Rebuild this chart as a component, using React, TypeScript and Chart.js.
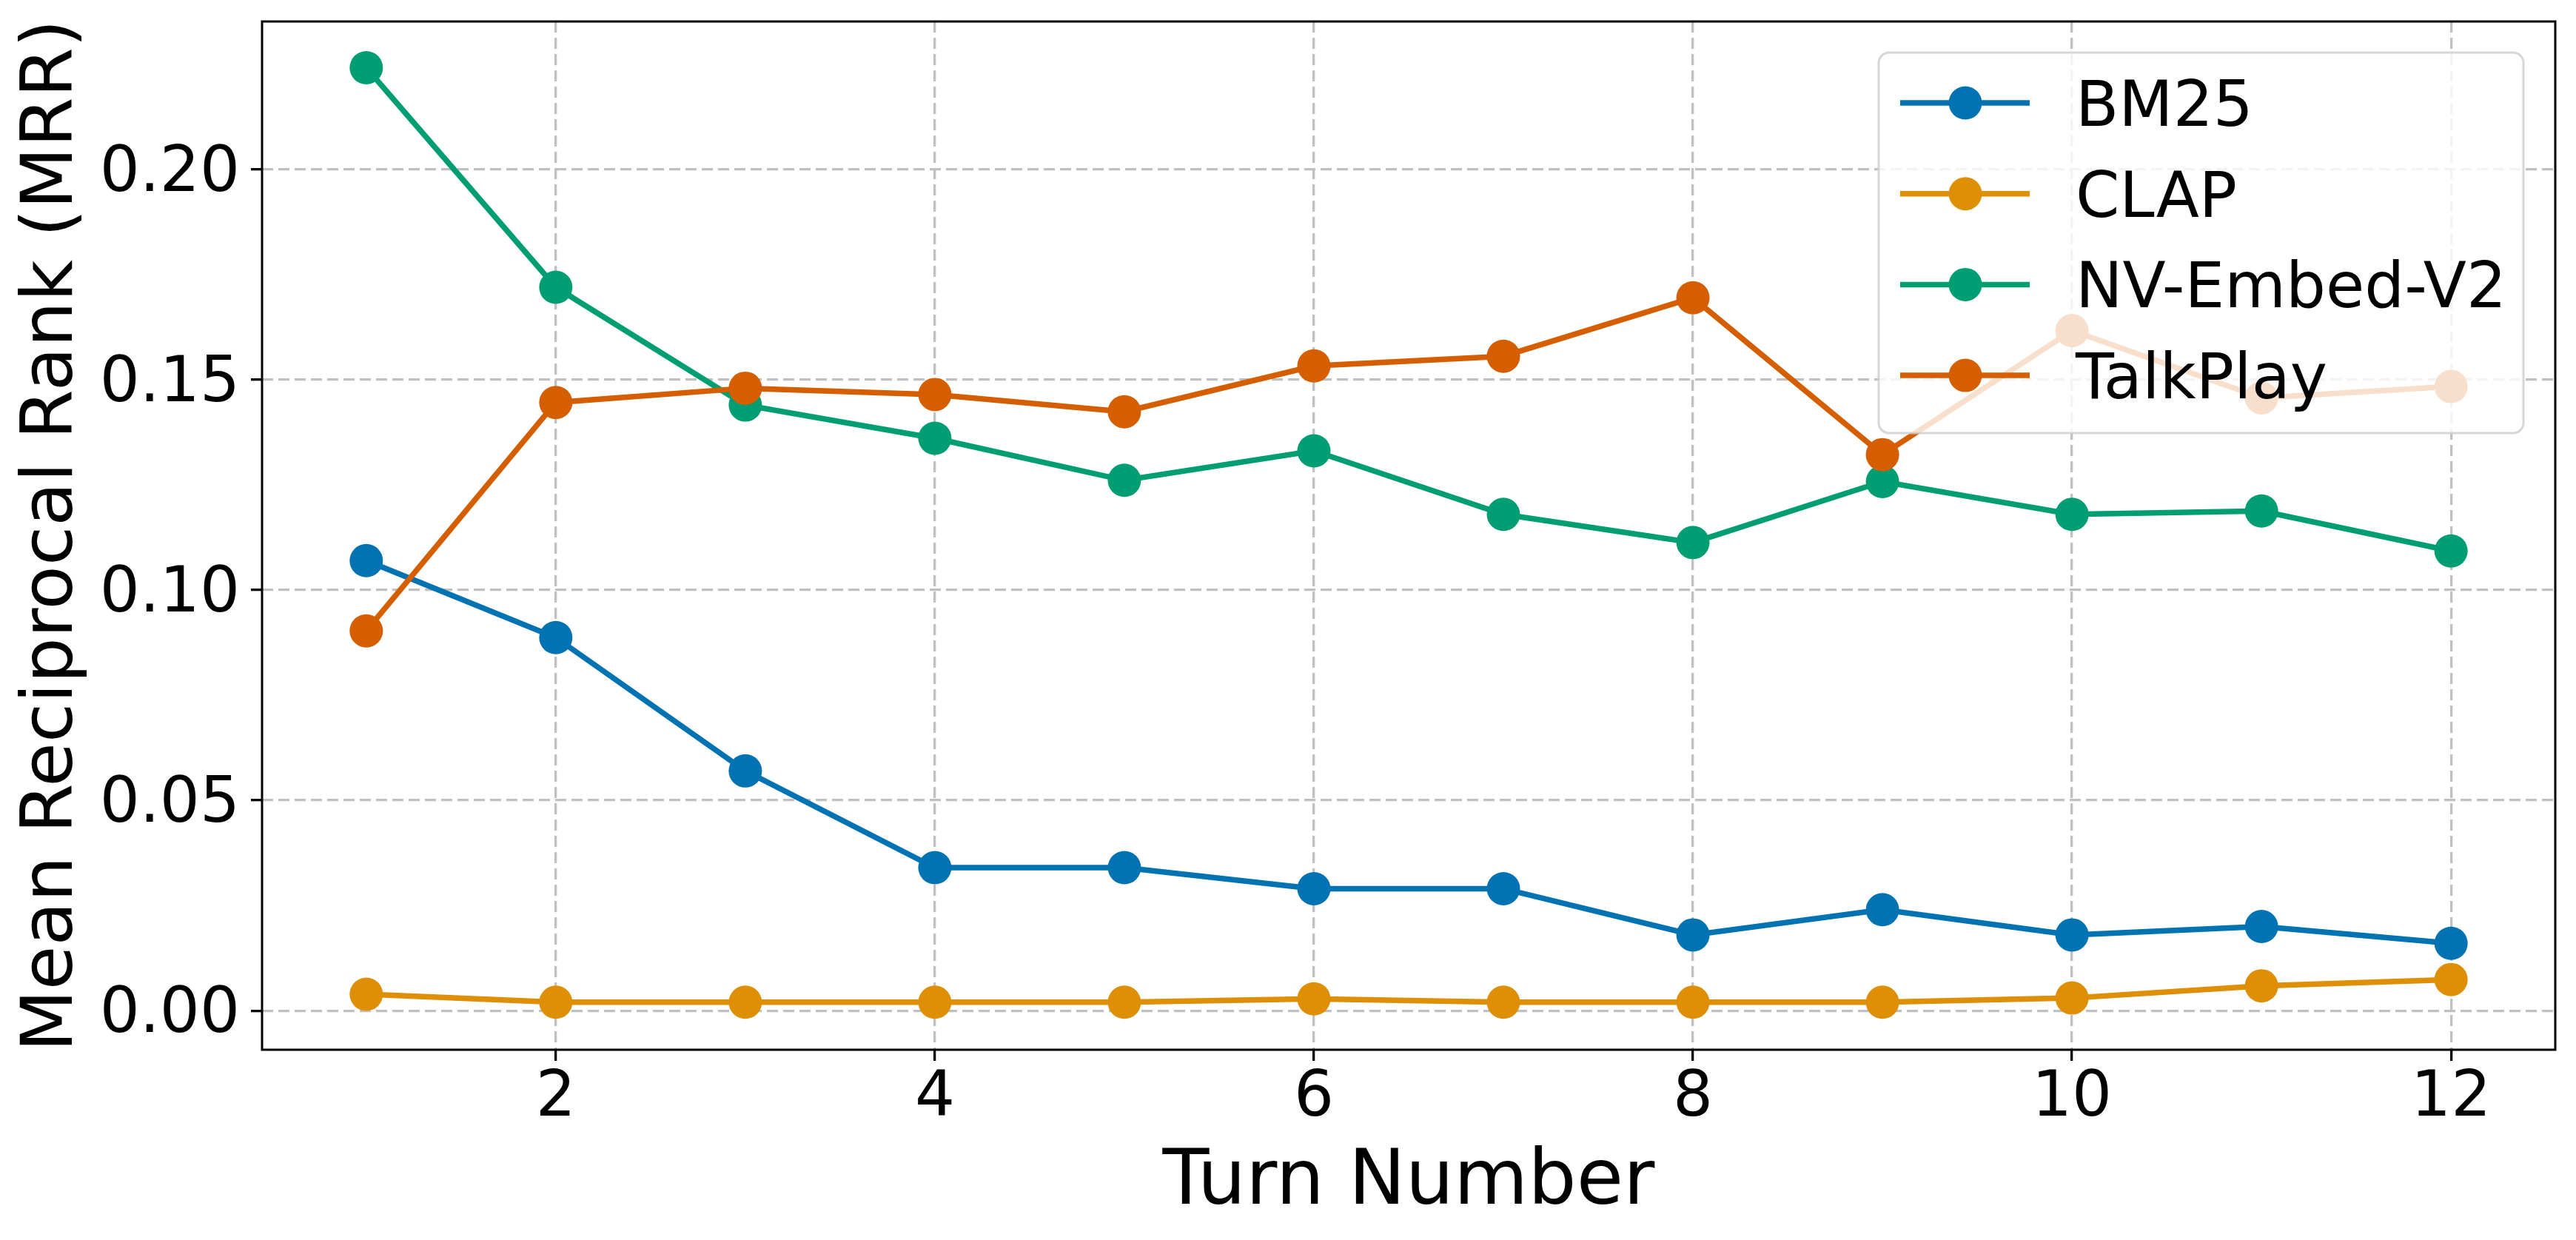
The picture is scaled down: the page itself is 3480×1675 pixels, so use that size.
import React, { useEffect, useRef } from 'react';
import { Chart, registerables } from 'chart.js';

Chart.register(...registerables);

const turns = [1, 2, 3, 4, 5, 6, 7, 8, 9, 10, 11, 12];
const bm25 = [0.107, 0.0887, 0.057, 0.034, 0.034, 0.029, 0.029, 0.018, 0.024, 0.018, 0.02, 0.016];
const clap = [0.0039, 0.002, 0.002, 0.002, 0.002, 0.0028, 0.002, 0.002, 0.002, 0.003, 0.0059, 0.0074];
const nvEmbed = [0.2242, 0.172, 0.144, 0.1361, 0.1261, 0.1331, 0.118, 0.1113, 0.1258, 0.118, 0.1188, 0.1093];
const talkPlay = [0.0903, 0.1446, 0.148, 0.1465, 0.1424, 0.1533, 0.1556, 0.1695, 0.1322, 0.1617, 0.1457, 0.1484];

const seriesNames = ['BM25', 'CLAP', 'NV-Embed-V2', 'TalkPlay'];
const seriesColors = ['#0173b2', '#de8f05', '#029e73', '#d55e00'];
const seriesValues = [bm25, clap, nvEmbed, talkPlay];

const yTicks = [0, 0.05, 0.1, 0.15, 0.2];
const xTicks = [2, 4, 6, 8, 10, 12];

const FONT = "'DejaVu Sans', sans-serif";

const framePlugin = {
  id: 'mplFrame',
  afterDatasetsDraw(chart: any) {
    const { ctx, chartArea: a } = chart;
    ctx.save();
    ctx.strokeStyle = '#000';
    ctx.lineWidth = 3;
    ctx.setLineDash([]);
    ctx.strokeRect(a.left, a.top, a.right - a.left, a.bottom - a.top);
    ctx.restore();
  },
};

const legendPlugin = {
  id: 'mplLegend',
  afterDraw(chart: any) {
    const { ctx, chartArea: a } = chart;
    const boxW = 871;
    const boxH = 514;
    const right = a.right - 43;
    const top = a.top + 42;
    const left = right - boxW;
    const r = 14;
    ctx.save();
    ctx.beginPath();
    ctx.moveTo(left + r, top);
    ctx.lineTo(left + boxW - r, top);
    ctx.arcTo(left + boxW, top, left + boxW, top + r, r);
    ctx.lineTo(left + boxW, top + boxH - r);
    ctx.arcTo(left + boxW, top + boxH, left + boxW - r, top + boxH, r);
    ctx.lineTo(left + r, top + boxH);
    ctx.arcTo(left, top + boxH, left, top + boxH - r, r);
    ctx.lineTo(left, top + r);
    ctx.arcTo(left, top, left + r, top, r);
    ctx.closePath();
    ctx.fillStyle = 'rgba(255,255,255,0.8)';
    ctx.fill();
    ctx.strokeStyle = 'rgba(204,204,204,0.8)';
    ctx.lineWidth = 3;
    ctx.stroke();

    chart.data.datasets.forEach((ds: any, i: number) => {
      const y = top + 68 + i * 122.7;
      ctx.strokeStyle = ds.borderColor;
      ctx.lineWidth = 7.5;
      ctx.beginPath();
      ctx.moveTo(left + 29, y);
      ctx.lineTo(left + 204, y);
      ctx.stroke();
      ctx.fillStyle = ds.borderColor;
      ctx.beginPath();
      ctx.arc(left + 117, y, 22.5, 0, Math.PI * 2);
      ctx.fill();
      ctx.fillStyle = '#000';
      ctx.font = `85px ${FONT}`;
      ctx.textAlign = 'left';
      ctx.textBaseline = 'alphabetic';
      ctx.fillText(ds.label, left + 266, y + 31);
    });
    ctx.restore();
  },
};

export default function App() {
  const canvasRef = useRef<HTMLCanvasElement | null>(null);

  useEffect(() => {
    document.body.style.margin = '0';
    const canvas = canvasRef.current;
    if (!canvas) return;

    const datasets = seriesNames.map((name, i) => ({
      label: name,
      data: turns.map((t, j) => ({ x: t, y: seriesValues[i][j] })),
      borderColor: seriesColors[i],
      backgroundColor: seriesColors[i],
      pointBackgroundColor: seriesColors[i],
      pointBorderColor: seriesColors[i],
      pointBorderWidth: 0,
      pointRadius: 22.5,
      pointHoverRadius: 22.5,
      borderWidth: 7.5,
      tension: 0,
      fill: false,
      order: seriesNames.length - 1 - i,
    }));

    const chart = new Chart(canvas, {
      type: 'line',
      data: { datasets },
      plugins: [framePlugin, legendPlugin],
      options: {
        responsive: false,
        animation: false,
        devicePixelRatio: 1,
        events: [],
        layout: { padding: { left: 0, right: 28, top: 29, bottom: 0 } },
        plugins: {
          legend: { display: false },
          tooltip: { enabled: false },
        },
        scales: {
          x: {
            type: 'linear',
            min: 0.45,
            max: 12.55,
            afterBuildTicks: (s: any) => {
              s.ticks = xTicks.map((v) => ({ value: v }));
            },
            afterFit: (s: any) => {
              s.height = 257;
              s.paddingLeft = 0;
              s.paddingRight = 0;
            },
            grid: {
              color: '#c0c0c0',
              lineWidth: 3.3,
              tickLength: 15,
              tickColor: '#000',
              tickWidth: 3.3,
            },
            border: { display: false, dash: [15, 7] },
            ticks: {
              font: { family: FONT, size: 85 },
              color: '#000',
              padding: 1,
              maxRotation: 0,
              autoSkip: false,
              callback: (v: any) => String(v),
            },
            title: {
              display: true,
              text: 'Turn Number',
              font: { family: FONT, size: 103 },
              color: '#000',
              padding: { top: 0, bottom: 14 },
            },
          },
          y: {
            type: 'linear',
            min: -0.0093,
            max: 0.2352,
            afterBuildTicks: (s: any) => {
              s.ticks = yTicks.map((v) => ({ value: v }));
            },
            afterFit: (s: any) => {
              s.width = 354;
              s.paddingTop = 0;
              s.paddingBottom = 0;
            },
            grid: {
              color: '#c0c0c0',
              lineWidth: 3.3,
              tickLength: 15,
              tickColor: '#000',
              tickWidth: 3.3,
            },
            border: { display: false, dash: [15, 7] },
            ticks: {
              font: { family: FONT, size: 85 },
              color: '#000',
              padding: 15,
              labelOffset: 7,
              autoSkip: false,
              callback: (v: any) => Number(v).toFixed(2),
            },
            title: {
              display: true,
              text: 'Mean Reciprocal Rank (MRR)',
              font: { family: FONT, size: 97 },
              color: '#000',
              padding: { top: 14, bottom: 0 },
            },
          },
        },
      } as any,
    });

    return () => {
      chart.destroy();
    };
  }, []);

  return (
    <div style={{ position: 'fixed', left: 0, top: 0, width: 3480, height: 1675, background: '#fff' }}>
      <canvas ref={canvasRef} width={3480} height={1675} style={{ display: 'block', width: 3480, height: 1675 }} />
    </div>
  );
}
